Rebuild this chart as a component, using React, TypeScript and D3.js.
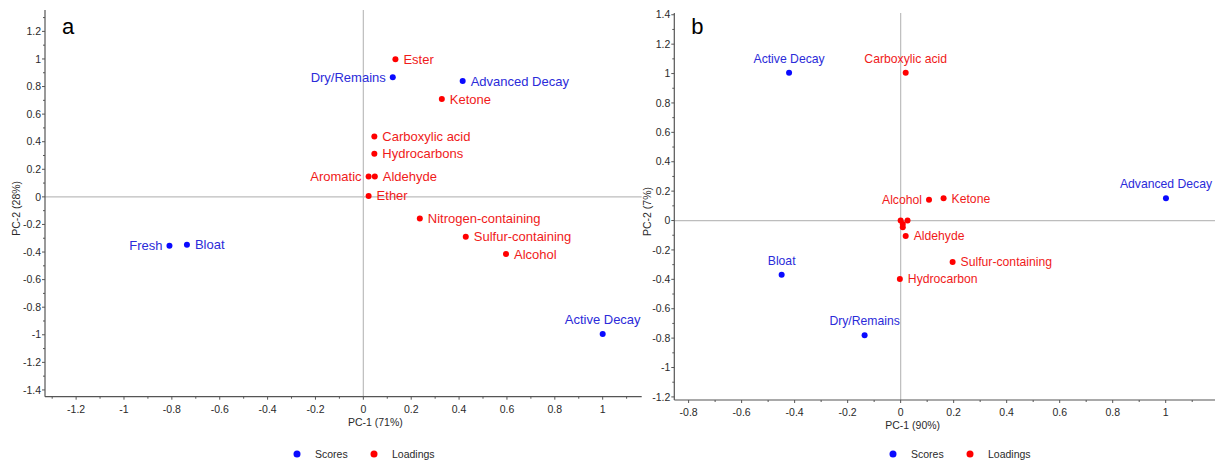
import * as d3 from 'd3';

// ---- panel a (PC-1 71% / PC-2 28%) ----
const aScoreNames = ['Fresh', 'Bloat', 'Active Decay', 'Advanced Decay', 'Dry/Remains'];
const aScoreX = [-0.81, -0.737, 1.0, 0.415, 0.123];
const aScoreY = [-0.355, -0.348, -0.995, 0.84, 0.867];

const aLoadNames = [
  'Ester', 'Ketone', 'Carboxylic acid', 'Hydrocarbons', 'Aldehyde', 'Aromatic',
  'Ether', 'Nitrogen-containing', 'Sulfur-containing', 'Alcohol',
];
const aLoadX = [0.134, 0.328, 0.046, 0.046, 0.048, 0.022, 0.022, 0.236, 0.428, 0.596];
const aLoadY = [0.998, 0.71, 0.437, 0.312, 0.147, 0.147, 0.007, -0.157, -0.29, -0.415];

const aXTicks = [-1.2, -1, -0.8, -0.6, -0.4, -0.2, 0, 0.2, 0.4, 0.6, 0.8, 1];
const aYTicks = [-1.4, -1.2, -1, -0.8, -0.6, -0.4, -0.2, 0, 0.2, 0.4, 0.6, 0.8, 1, 1.2];

// ---- panel b (PC-1 90% / PC-2 7%) ----
const bScoreNames = ['Active Decay', 'Bloat', 'Dry/Remains', 'Advanced Decay'];
const bScoreX = [-0.421, -0.449, -0.136, 1.001];
const bScoreY = [1.005, -0.369, -0.781, 0.151];

const bLoadNames = [
  'Carboxylic acid', 'Alcohol', 'Ketone', 'Aldehyde', 'Sulfur-containing', 'Hydrocarbon',
  '', '', '', '',
];
const bLoadX = [0.019, 0.107, 0.162, 0.019, 0.196, -0.003, 0.0, 0.026, 0.008, 0.008];
const bLoadY = [1.005, 0.141, 0.151, -0.105, -0.282, -0.398, 0.0, 0.0, -0.024, -0.046];

const bXTicks = [-0.8, -0.6, -0.4, -0.2, 0, 0.2, 0.4, 0.6, 0.8, 1];
const bYTicks = [-1.2, -1, -0.8, -0.6, -0.4, -0.2, 0, 0.2, 0.4, 0.6, 0.8, 1, 1.2, 1.4];

// where each label sits relative to its dot
type Side = 'left' | 'right' | 'top';
const aSides: Record<string, Side> = {
  Fresh: 'left', 'Dry/Remains': 'left', Aromatic: 'left', 'Active Decay': 'top',
};
const bSides: Record<string, Side> = {
  'Active Decay': 'top', Bloat: 'top', 'Dry/Remains': 'top', 'Advanced Decay': 'top',
  'Carboxylic acid': 'top', Alcohol: 'left',
};

const FONT = '"Liberation Sans", Arial, Helvetica, sans-serif';
const BLUE = '#0a0aff';
const BLUE_TEXT = '#2b2bd9';
const RED = '#ff0000';
const RED_TEXT = '#f01a1a';
const AXIS = '#555';
const ZERO = '#bdbdbd';
const TICK_TEXT = '#2a2a2a';

const fmt = (v: number) => String(+v.toFixed(1));

type PanelProps = {
  letter: string;
  xLabel: string;
  yLabel: string;
  xDomain: [number, number];
  yDomain: [number, number];
  xRange: [number, number];
  yRange: [number, number];
  xTicks: number[];
  yTicks: number[];
  scoreNames: string[];
  scoreX: number[];
  scoreY: number[];
  loadNames: string[];
  loadX: number[];
  loadY: number[];
  sides: Record<string, Side>;
  labelSize: number;
  yLabelX: number;
  legendX: number;
};

function Panel(p: PanelProps) {
  const x = d3.scaleLinear().domain(p.xDomain).range(p.xRange);
  const y = d3.scaleLinear().domain(p.yDomain).range(p.yRange);
  const [x0, x1] = p.xRange;
  const [yb, yt] = p.yRange;

  const minorX = d3.range(Math.ceil(p.xDomain[0] * 10), Math.floor(p.xDomain[1] * 10) + 1)
    .filter((k) => Math.abs(k) % 2 === 1).map((k) => k / 10);
  const minorY = d3.range(Math.ceil(p.yDomain[0] * 10), Math.floor(p.yDomain[1] * 10) + 1)
    .filter((k) => Math.abs(k) % 2 === 1).map((k) => k / 10);

  const label = (name: string, px: number, py: number, color: string, key: string) => {
    if (!name) return null;
    const side = p.sides[name] ?? 'right';
    if (side === 'top') {
      return (
        <text key={key} x={px} y={py - 10} textAnchor="middle" fill={color} fontSize={p.labelSize}>
          {name}
        </text>
      );
    }
    return (
      <text
        key={key}
        x={side === 'left' ? px - 7 : px + 8}
        y={py}
        dy="0.35em"
        textAnchor={side === 'left' ? 'end' : 'start'}
        fill={color}
        fontSize={p.labelSize}
      >
        {name}
      </text>
    );
  };

  return (
    <g fontFamily={FONT}>
      {/* zero reference lines */}
      <line x1={x0} x2={x1} y1={y(0)} y2={y(0)} stroke={ZERO} strokeWidth={1.2} />
      <line x1={x(0)} x2={x(0)} y1={yb} y2={yt} stroke={ZERO} strokeWidth={1.2} />

      {/* axes */}
      <line x1={x0} x2={x1} y1={yb} y2={yb} stroke={AXIS} strokeWidth={1.2} />
      <line x1={x0} x2={x0} y1={yb} y2={yt} stroke={AXIS} strokeWidth={1.2} />

      {p.xTicks.map((t) => (
        <g key={`xt${t}`}>
          <line x1={x(t)} x2={x(t)} y1={yb} y2={yb + 3} stroke={AXIS} />
          <text x={x(t)} y={yb + 16} textAnchor="middle" fontSize={10.5} fill={TICK_TEXT}>
            {fmt(t)}
          </text>
        </g>
      ))}
      {minorX.map((t) => (
        <line key={`xm${t}`} x1={x(t)} x2={x(t)} y1={yb} y2={yb + 2} stroke={AXIS} />
      ))}
      {p.yTicks.map((t) => (
        <g key={`yt${t}`}>
          <line x1={x0} x2={x0 - 3} y1={y(t)} y2={y(t)} stroke={AXIS} />
          <text x={x0 - 4} y={y(t)} dy="0.35em" textAnchor="end" fontSize={10.5} fill={TICK_TEXT}>
            {fmt(t)}
          </text>
        </g>
      ))}
      {minorY.map((t) => (
        <line key={`ym${t}`} x1={x0} x2={x0 - 2} y1={y(t)} y2={y(t)} stroke={AXIS} />
      ))}

      {/* axis titles */}
      <text x={x(0) + 12} y={yb + 29} textAnchor="middle" fontSize={10.5} fill={TICK_TEXT}>
        {p.xLabel}
      </text>
      <text
        transform={`translate(${p.yLabelX},${(yb + yt) / 2 + 5}) rotate(-90)`}
        textAnchor="middle"
        fontSize={10.5}
        fill={TICK_TEXT}
      >
        {p.yLabel}
      </text>

      {/* panel letter */}
      <text x={x0 + 17} y={34} fontSize={22} fill="#000">
        {p.letter}
      </text>

      {/* loadings */}
      {p.loadX.map((v, i) => (
        <circle key={`lc${i}`} cx={x(v)} cy={y(p.loadY[i])} r={3} fill={RED} />
      ))}
      {p.loadNames.map((n, i) => label(n, x(p.loadX[i]), y(p.loadY[i]), RED_TEXT, `ll${i}`))}

      {/* scores */}
      {p.scoreX.map((v, i) => (
        <circle key={`sc${i}`} cx={x(v)} cy={y(p.scoreY[i])} r={3} fill={BLUE} />
      ))}
      {p.scoreNames.map((n, i) => label(n, x(p.scoreX[i]), y(p.scoreY[i]), BLUE_TEXT, `sl${i}`))}

      {/* legend */}
      <g transform={`translate(${p.legendX},454)`}>
        <circle cx={0} cy={0} r={3.5} fill={BLUE} />
        <text x={18} y={0} dy="0.35em" fontSize={10.5} fill={TICK_TEXT}>Scores</text>
        <circle cx={77} cy={0} r={3.5} fill={RED} />
        <text x={95} y={0} dy="0.35em" fontSize={10.5} fill={TICK_TEXT}>Loadings</text>
      </g>
    </g>
  );
}

export default function App() {
  return (
    <div style={{ position: 'fixed', left: 0, top: 0, width: 1215, height: 463, background: '#fff' }}>
      <svg width={1215} height={463} viewBox="0 0 1215 463">
        <rect width={1215} height={463} fill="#fff" />
        <Panel
          letter="a"
          xLabel="PC-1 (71%)"
          yLabel="PC-2 (28%)"
          xDomain={[-1.33, 1.163]}
          yDomain={[-1.449, 1.355]}
          xRange={[45, 641.7]}
          yRange={[396.7, 10]}
          xTicks={aXTicks}
          yTicks={aYTicks}
          scoreNames={aScoreNames}
          scoreX={aScoreX}
          scoreY={aScoreY}
          loadNames={aLoadNames}
          loadX={aLoadX}
          loadY={aLoadY}
          sides={aSides}
          labelSize={13}
          yLabelX={20}
          legendX={297}
        />
        <Panel
          letter="b"
          xLabel="PC-1 (90%)"
          yLabel="PC-2 (7%)"
          xDomain={[-0.854, 1.186]}
          yDomain={[-1.221, 1.412]}
          xRange={[674.3, 1215]}
          yRange={[400, 13]}
          xTicks={bXTicks}
          yTicks={bYTicks}
          scoreNames={bScoreNames}
          scoreX={bScoreX}
          scoreY={bScoreY}
          loadNames={bLoadNames}
          loadX={bLoadX}
          loadY={bLoadY}
          sides={bSides}
          labelSize={12.2}
          yLabelX={651}
          legendX={893}
        />
      </svg>
    </div>
  );
}
